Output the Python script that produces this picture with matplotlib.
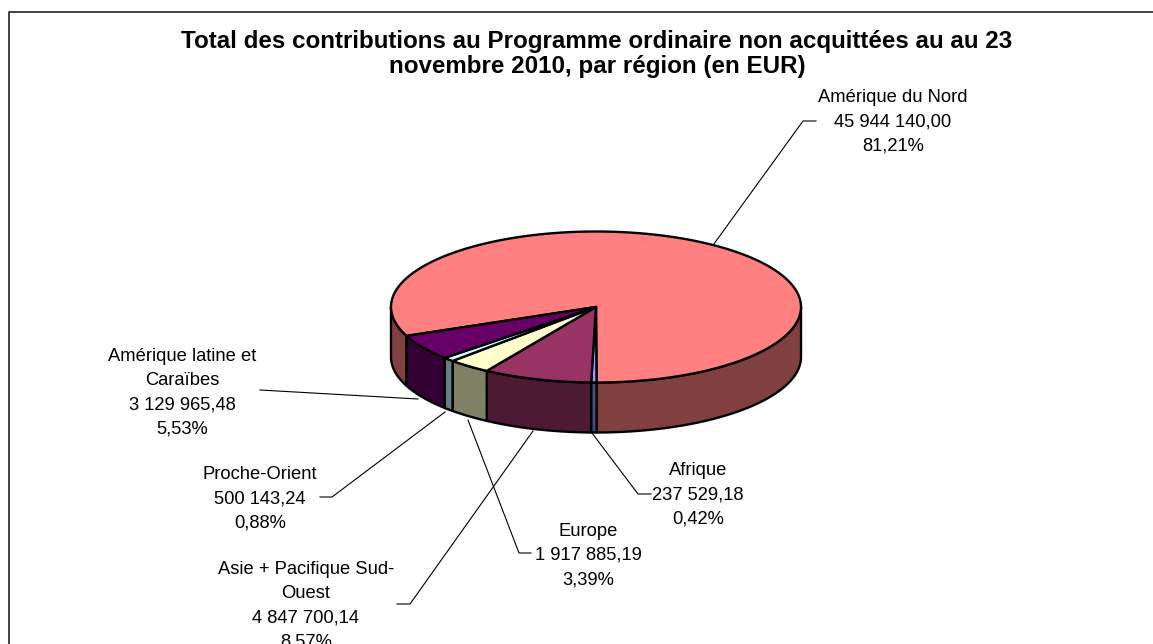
import numpy as np
import matplotlib
matplotlib.use("Agg")
import matplotlib.pyplot as plt
from matplotlib.patches import Polygon

plt.rcParams['font.family'] = ['Liberation Sans', 'DejaVu Sans']

title_lines = ["Total des contributions au Programme ordinaire non acquittées au au 23",
               "novembre 2010, par région (en EUR)"]
regions = ["Amérique du Nord", "Afrique", "Asie + Pacifique Sud-Ouest", "Europe",
           "Proche-Orient", "Amérique latine et Caraïbes"]
amounts = [45944140.00, 237529.18, 4847700.14, 1917885.19, 500143.24, 3129965.48]
value_labels = ["45 944 140,00", "237 529,18", "4 847 700,14", "1 917 885,19",
                "500 143,24", "3 129 965,48"]
pct_labels = ["81,21%", "0,42%", "8,57%", "3,39%", "0,88%", "5,53%"]
label_names = ["Amérique du Nord", "Afrique", "Asie + Pacifique Sud-\nOuest", "Europe",
               "Proche-Orient", "Amérique latine et\nCaraïbes"]
top_colors = ["#FF8080", "#9999FF", "#993366", "#FFFFCC", "#CCFFFF", "#660066"]
side_colors = ["#804040", "#4D4D80", "#4D1A33", "#808066", "#668080", "#330033"]

W, H = 1153, 644
CX, CY, RX, RY, DEPTH = 596, 307, 205, 75.5, 50
START = 247.5   # clockwise from top, start of first slice

fig = plt.figure(figsize=(W / 100, H / 100), dpi=100)
ax = fig.add_axes([0, 0, 1, 1])
ax.set_xlim(0, W)
ax.set_ylim(H, 0)
ax.axis("off")

# chart frame
ax.plot([8.5, 8.5, W + 5], [H + 5, 11.5, 11.5], color="#222222", lw=1.2, clip_on=True)

tot = sum(amounts)
frac = np.array(amounts) / tot
edges = START + np.concatenate([[0], np.cumsum(frac)]) * 360


def arc(a0, a1):
    n = max(2, int(abs(a1 - a0)) + 2)
    t = np.radians(np.linspace(a0, a1, n))
    return np.column_stack([CX + RX * np.sin(t), CY - RY * np.cos(t)])


def add(poly, fc, z):
    ax.add_patch(Polygon(poly, closed=True, facecolor=fc, edgecolor="black",
                         lw=1.7, joinstyle="round", zorder=z))


# side walls: only the front half (90..270 clockwise from top)
sides = []
for i in range(len(amounts)):
    a0, a1 = edges[i], edges[i + 1]
    for k in (-360, 0, 360):
        lo, hi = max(a0 + k, 90), min(a1 + k, 270)
        if hi > lo:
            sides.append((i, lo, hi))
for i, lo, hi in sides:
    top = arc(lo, hi)
    bot = top[::-1] + np.array([0, DEPTH])
    add(np.vstack([top, bot]), side_colors[i], 2)

# top faces
for i in range(len(amounts)):
    add(np.vstack([[[CX, CY]], arc(edges[i], edges[i + 1])]), top_colors[i], 3)

# labels and leader lines
FS = 13.2
label_xy = [(893, 121.5), (698, 495), (306, 605.5), (588, 555.5), (260, 498.5), (182.5, 393)]
leaders = [
    [(816, 121), (803, 121), (711, 248)],
    [(651, 494), (638, 494), (592, 433)],
    [(397, 604), (410, 604), (533, 431)],
    [(531, 553), (519, 553), (468, 420)],
    [(320, 497), (332, 497), (445, 412)],
    [(260, 390), (418, 399)],
]
for i in range(len(regions)):
    txt = f"{label_names[i]}\n{value_labels[i]}\n{pct_labels[i]}"
    ax.text(*label_xy[i], txt, ha="center", va="center", fontsize=FS,
            linespacing=1.54, color="black", zorder=6, clip_on=True)
    xs, ys = zip(*leaders[i])
    ax.plot(xs, ys, color="black", lw=0.8, zorder=1)

ax.text(597, 41, title_lines[0], ha="center", va="center", fontsize=17.4, fontweight="bold")
ax.text(597, 66, title_lines[1], ha="center", va="center", fontsize=17.4, fontweight="bold")

fig.savefig("out.png", dpi=100)
